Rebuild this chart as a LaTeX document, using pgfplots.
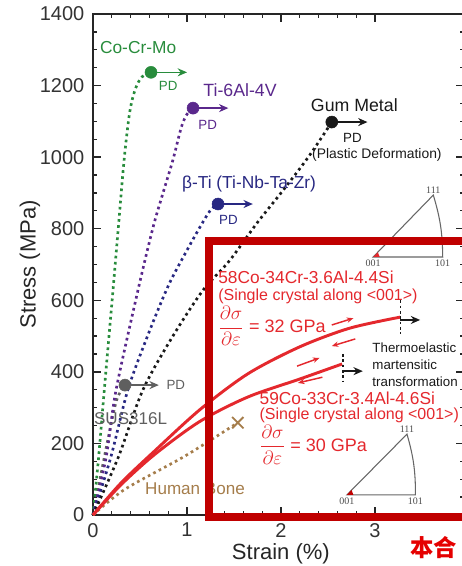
\documentclass[border=0pt]{standalone}
\usepackage{pgfplots}
\pgfplotsset{compat=1.18}
\usepackage{fontspec}
\setmainfont{Liberation Sans}
\newfontfamily\serifx{Liberation Serif}
\newfontfamily\cjk{Noto Sans CJK SC}
\usetikzlibrary{arrows.meta}
\definecolor{cgreen}{RGB}{40,140,60}
\definecolor{cpurple}{RGB}{90,40,140}
\definecolor{cnavy}{RGB}{40,40,130}
\definecolor{cgray}{RGB}{95,95,95}
\definecolor{cbrown}{RGB}{165,125,75}
\definecolor{cred}{RGB}{228,40,45}
\definecolor{cdarkred}{RGB}{192,0,0}
\definecolor{cblack}{RGB}{25,25,25}
\tikzset{
  dotline/.style={line width=2pt, dash pattern=on 2pt off 2.6pt},
  pdarrow/.style={line width=1.2pt, -{Stealth[length=7pt,width=6pt]}},
  smallarrow/.style={cred, line width=1.1pt, -{Stealth[length=5pt,width=4pt]}},
  ipf/.style={black!60, line width=0.8pt},
  ipflab/.style={font=\serifx\fontsize{7.5}{8}\selectfont, text=black!70, inner sep=1pt},
  frac/.style={font=\fontsize{14}{14}\selectfont},
}
\begin{document}
\begin{tikzpicture}
\useasboundingbox (0,0) rectangle (345.75pt,424.5pt);
\begin{axis}[
  at={(69.75pt,38.25pt)}, anchor=south west,
  scale only axis, width=278.5pt, height=375.75pt,
  xmin=0, xmax=3.95, ymin=0, ymax=1400,
  xtick={0,1,2,3}, minor x tick num=4,
  ytick={0,200,...,1400}, minor y tick num=3,
  tick align=inside, major tick length=6pt, minor tick length=3pt,
  axis line style={line width=1.1pt, color=black!85},
  every tick/.style={line width=1pt, black!85},
  ticklabel style={font=\fontsize{15}{15}\selectfont, text=black!80},
  /pgf/number format/assume math mode=true,
  /pgf/number format/1000 sep={},
  yticklabel style={xshift=-3pt},
  xticklabel style={yshift=-2.5pt},
  scaled y ticks=false,
  xlabel={Strain (\%)}, ylabel={Stress (MPa)},
  label style={font=\fontsize{16.5}{18}\selectfont, text=black!85},
  xlabel style={at={(axis description cs:0.506,-0.077)}, anchor=center},
  ylabel style={at={(axis description cs:-0.17,0.5)}, anchor=center},
  clip=false,
]
% SUS316L
\addplot[cgray, dotline, smooth] coordinates {(0,0) (0.15,200) (0.25,320) (0.34,363)};
% Co-Cr-Mo
\addplot[cgreen, dotline, smooth] coordinates {(0,0) (0.06,162) (0.12,349) (0.21,620) (0.27,805) (0.33,990) (0.39,1125) (0.45,1190) (0.52,1224) (0.617,1237)};
% Ti-6Al-4V
\addplot[cpurple, dotline, smooth] coordinates {(0,0) (0.14,162) (0.245,349) (0.48,630) (0.64,805) (0.745,900) (0.85,992) (0.94,1084) (1.0,1120) (1.064,1137)};
% beta-Ti
\addplot[cnavy, dotline, smooth] coordinates {(0,0) (0.19,162) (0.37,349) (0.58,500) (0.8,640) (1.0,740) (1.15,810) (1.25,852) (1.33,869)};
% Gum Metal
\addplot[cblack, dotline, smooth] coordinates {(0,0) (0.27,162) (0.53,349) (0.85,500) (1.17,628) (1.45,710) (1.745,816) (2.0,900) (2.29,1000) (2.54,1098)};
% Human bone
\addplot[cbrown, dotline, smooth] coordinates {(0,0) (0.34,72) (0.98,165) (1.54,258)};
\addplot[only marks, mark=x, mark size=6pt, cbrown, line width=1.4pt] coordinates {(1.54,258)};
% new alloys
\addplot[cred, line width=2.2pt, smooth] coordinates {(0,0) (0.3,90) (0.66,180) (1.14,295) (1.65,395) (2.2,470) (2.73,522) (3.27,553)};
\addplot[cred, line width=2.2pt, smooth] coordinates {(0,0) (0.3,85) (0.66,170) (1.14,262) (1.65,330) (2.2,380) (2.65,422)};
% PD points
\addplot[only marks, mark=*, mark size=4.5pt, cgreen] coordinates {(0.617,1237)};
\addplot[only marks, mark=*, mark size=4.5pt, cpurple] coordinates {(1.064,1137)};
\addplot[only marks, mark=*, mark size=4.5pt, cnavy] coordinates {(1.33,869)};
\addplot[only marks, mark=*, mark size=4.5pt, cblack] coordinates {(2.54,1098)};
\addplot[only marks, mark=*, mark size=4.5pt, cgray] coordinates {(0.34,363)};
% PD arrows
\draw[pdarrow, cgreen] (axis cs:0.617,1237) -- (axis cs:1.0,1237);
\draw[pdarrow, cpurple] (axis cs:1.064,1137) -- (axis cs:1.44,1137);
\draw[pdarrow, cnavy] (axis cs:1.33,869) -- (axis cs:1.70,869);
\draw[pdarrow, cblack] (axis cs:2.54,1098) -- (axis cs:2.92,1098);
\draw[pdarrow, cgray] (axis cs:0.34,363) -- (axis cs:0.70,363);
\node[cgreen, font=\fontsize{10}{10}\selectfont] at (axis cs:0.80,1199) {PD};
\node[cpurple, font=\fontsize{10}{10}\selectfont] at (axis cs:1.22,1089) {PD};
\node[cnavy, font=\fontsize{10}{10}\selectfont] at (axis cs:1.44,824) {PD};
\node[cblack, font=\fontsize{10}{10}\selectfont] at (axis cs:2.76,1053) {PD};
\node[cblack, font=\fontsize{10.4}{11}\selectfont] at (axis cs:3.02,1006) {(Plastic Deformation)};
\node[cgray, font=\fontsize{10}{10}\selectfont, anchor=west, inner sep=0pt] at (axis cs:0.78,363) {PD};
% names
\node[cgreen, font=\fontsize{13}{13}\selectfont] at (axis cs:0.48,1305) {Co-Cr-Mo};
\node[cpurple, font=\fontsize{13.3}{13}\selectfont] at (axis cs:1.564,1187) {Ti-6Al-4V};
\node[cblack, font=\fontsize{13.3}{13}\selectfont] at (axis cs:2.78,1145) {Gum Metal};
\node[cnavy, font=\fontsize{13}{13}\selectfont] at (axis cs:1.66,925) {β-Ti (Ti-Nb-Ta-Zr)};
\node[cgray, font=\fontsize{12.8}{13}\selectfont] at (axis cs:0.40,268) {SUS316L};
\node[cbrown, font=\fontsize{12.8}{13}\selectfont] at (axis cs:1.085,73) {Human Bone};
% red annotations
\node[cred, font=\fontsize{13}{13}\selectfont, anchor=west, inner sep=0pt] at (axis cs:1.33,665) {58Co-34Cr-3.6Al-4.4Si};
\node[cred, font=\fontsize{12}{13}\selectfont, anchor=west, inner sep=0pt] at (axis cs:1.33,612) {(Single crystal along <001>)};
\node[cred, frac, anchor=west, inner sep=0pt] at (axis cs:1.33,528) {$\displaystyle\frac{\partial\sigma}{\partial\varepsilon}$ {\fontsize{13.5}{13}\selectfont= 32 GPa}};
\node[cred, font=\fontsize{13}{13}\selectfont, anchor=west, inner sep=0pt] at (axis cs:1.77,327) {59Co-33Cr-3.4Al-4.6Si};
\node[cred, font=\fontsize{12}{13}\selectfont, anchor=west, inner sep=0pt] at (axis cs:1.77,279) {(Single crystal along <001>)};
\node[cred, frac, anchor=west, inner sep=0pt] at (axis cs:1.77,197) {$\displaystyle\frac{\partial\sigma}{\partial\varepsilon}$ {\fontsize{13.5}{13}\selectfont= 30 GPa}};
\node[cblack, font=\fontsize{10}{12.75}\selectfont, anchor=west, align=left, inner sep=0pt] at (axis cs:2.97,419) {Thermoelastic\\martensitic\\transformation};
% loading / unloading arrows
\draw[smallarrow] (axis cs:2.54,531) -- (axis cs:2.77,550);
\draw[smallarrow] (axis cs:2.79,492) -- (axis cs:2.54,472);
\draw[smallarrow] (axis cs:2.17,416) -- (axis cs:2.41,439);
\draw[smallarrow] (axis cs:2.44,385) -- (axis cs:2.18,369);
% transformation markers
\draw[cblack, line width=1pt, dash pattern=on 2pt off 2pt] (axis cs:3.27,600) -- (axis cs:3.27,505);
\draw[pdarrow, cblack] (axis cs:3.27,545) -- (axis cs:3.48,545);
\draw[cblack, line width=1pt, dash pattern=on 2pt off 2pt] (axis cs:2.66,450) -- (axis cs:2.66,375);
\draw[pdarrow, cblack] (axis cs:2.66,402) -- (axis cs:2.87,402);
% inverse pole figures
\draw[ipf] (axis cs:2.98,721) -- (axis cs:3.72,721) to[bend right=8] (axis cs:3.62,894) -- cycle;
\fill[cred] (axis cs:2.98,721) -- (axis cs:3.05,721) -- (axis cs:3.03,734) -- cycle;
\node[ipflab, anchor=south] at (axis cs:3.62,894) {111};
\node[ipflab, anchor=north] at (axis cs:2.98,717) {001};
\node[ipflab, anchor=north] at (axis cs:3.72,717) {101};
\draw[ipf] (axis cs:2.70,56) -- (axis cs:3.43,56) to[bend right=8] (axis cs:3.34,226) -- cycle;
\fill[cdarkred] (axis cs:2.70,56) -- (axis cs:2.77,56) -- (axis cs:2.75,70) -- cycle;
\node[ipflab, anchor=south] at (axis cs:3.34,226) {111};
\node[ipflab, anchor=north] at (axis cs:2.70,52) {001};
\node[ipflab, anchor=north] at (axis cs:3.43,52) {101};
% highlight box
\draw[cdarkred, line width=6pt] (axis cs:4.2,765) -- (axis cs:1.234,765) -- (axis cs:1.234,-5.6) -- (axis cs:4.2,-5.6);
\node[text=red!90!black, font=\cjk\bfseries\fontsize{17.5}{18}\selectfont, anchor=west, inner sep=0pt] at (axis cs:3.37,-92) {本合};
\end{axis}
\end{tikzpicture}
\end{document}
